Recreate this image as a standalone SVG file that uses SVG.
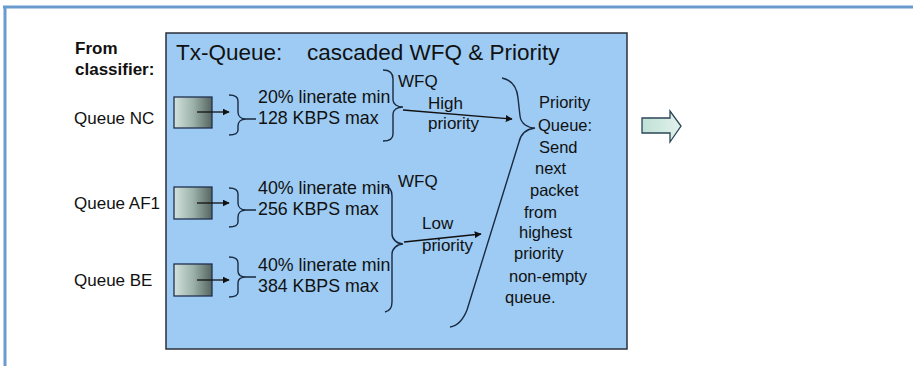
<svg xmlns="http://www.w3.org/2000/svg" width="914" height="366" viewBox="0 0 914 366">
<defs>
<linearGradient id="qg" x1="0" y1="0" x2="1" y2="0">
<stop offset="0" stop-color="#d3e2dc"/>
<stop offset="0.5" stop-color="#9cb2aa"/>
<stop offset="1" stop-color="#55655f"/>
</linearGradient>
<linearGradient id="ag" x1="0" y1="0" x2="1" y2="0">
<stop offset="0" stop-color="#bfe0d6"/>
<stop offset="1" stop-color="#e2f2ec"/>
</linearGradient>
<marker id="ah" viewBox="0 0 10 10" refX="9" refY="5" markerWidth="7" markerHeight="7" markerUnits="userSpaceOnUse" orient="auto">
<path d="M0,0 L10,5 L0,10 z" fill="#111"/>
</marker>
</defs>
<style>
text{font-family:"Liberation Sans",Arial,sans-serif;fill:#111;}
.lbl{font-size:17px;}
.bold{font-size:17px;font-weight:bold;}
.title{font-size:22.5px;}
.mid{font-size:17.8px;}
.pq{font-size:16.5px;}
.q{fill:url(#qg);stroke:#203050;stroke-width:1.3;}
.br{fill:none;stroke:#1a2a40;stroke-width:1.4;}
.ln{fill:none;stroke:#111;stroke-width:1.3;marker-end:url(#ah);}
</style>
<rect width="914" height="366" fill="#ffffff"/>
<g id="frame">
<line x1="3" y1="7" x2="913" y2="7" stroke="#6a9bcf" stroke-width="3"/>
<line x1="5" y1="6" x2="5" y2="366" stroke="#6a9bcf" stroke-width="3"/>
</g>
<g id="txqueue">
<rect x="166" y="33" width="461" height="316" fill="#9dcbf3" stroke="#2b3038" stroke-width="1.5"/>
<text class="title" x="176" y="60">Tx-Queue:</text>
<text class="title" x="307" y="60">cascaded WFQ &amp; Priority</text>
</g>
<g id="from">
<text class="bold" x="75" y="54">From</text>
<text class="bold" x="75" y="75">classifier:</text>
</g>
<g id="queue-nc">
<text class="lbl" x="74" y="124">Queue NC</text>
<rect class="q" x="174" y="97" width="38" height="31"/>
</g>
<g id="queue-af1">
<text class="lbl" x="74" y="209">Queue AF1</text>
<rect class="q" x="174" y="187" width="38" height="32"/>
</g>
<g id="queue-be">
<text class="lbl" x="74" y="286">Queue BE</text>
<rect class="q" x="174" y="264" width="38" height="32"/>
</g>
<g id="rate-nc">
<path class="br" d="M229,95 C235,95 238,97 238,101 L238,112 C238,116 241,119 246,119 L256,119 M246,119 C241,119 238,122 238,126 L238,130 C238,133 235,135 229,135"/>
<text class="mid" x="258" y="103">20% linerate min</text>
<text class="mid" x="258" y="124">128 KBPS max</text>
</g>
<g id="rate-af1">
<path class="br" d="M229,188 C235,188 238,190 238,194 L238,203 C238,207 241,210 246,210 L256,210 M246,210 C241,210 238,213 238,217 L238,222 C238,225 235,227 229,227"/>
<text class="mid" x="258" y="194">40% linerate min</text>
<text class="mid" x="258" y="215">256 KBPS max</text>
</g>
<g id="rate-be">
<path class="br" d="M229,257 C235,257 238,259 238,263 L238,271 C238,275 241,277 246,277 L256,277 M246,277 C241,277 238,279 238,283 L238,292 C238,295 235,297 229,297"/>
<text class="mid" x="258" y="271">40% linerate min</text>
<text class="mid" x="258" y="292">384 KBPS max</text>
</g>
<g id="wfq-high">
<path class="br" d="M383,70 C390,70 393,73 393,79 L393,100 C393,104 397,107 403,107 C397,107 393,110 393,114 L393,134 C393,139 389,141 383,141"/>
<text class="lbl" x="398" y="87">WFQ</text>
<text class="lbl" x="428" y="109">High</text>
<text class="lbl" x="428" y="129">priority</text>
</g>
<g id="wfq-low">
<path class="br" d="M385,187 C390,187 392,190 392,196 L392,234 C392,239 397,244 403,244 C397,244 392,249 392,254 L392,302 C392,308 390,311 385,312"/>
<text class="lbl" x="398" y="187">WFQ</text>
<text class="lbl" x="422" y="229">Low</text>
<text class="lbl" x="422" y="251">priority</text>
</g>
<g id="priority-queue">
<path class="br" d="M502,78 C512,80 517,88 518,98 L520,116 C521,124 528,128 535,128 C527,129 521,133 519,142 L467,310 C463,320 457,326 450,327"/>
<text class="pq" x="539" y="108">Priority</text>
<text class="pq" x="538" y="131">Queue:</text>
<text class="pq" x="539" y="153">Send</text>
<text class="pq" x="535" y="174">next</text>
<text class="pq" x="530" y="196">packet</text>
<text class="pq" x="524" y="218">from</text>
<text class="pq" x="519" y="238">highest</text>
<text class="pq" x="514" y="259">priority</text>
<text class="pq" x="509" y="282">non-empty</text>
<text class="pq" x="505" y="303">queue.</text>
</g>
<g id="output-arrow">
<path d="M642,118 L670,118 L670,111 L681,126 L670,142 L670,133 L642,133 Z" fill="url(#ag)" stroke="#2a4656" stroke-width="1.3" stroke-linejoin="miter"/>
</g>
<g id="connectors">
<line class="ln" x1="197" y1="112" x2="229" y2="112"/>
<line class="ln" x1="197" y1="203" x2="229" y2="203"/>
<line class="ln" x1="197" y1="280" x2="229" y2="280"/>
<line class="ln" x1="403" y1="110" x2="512" y2="119"/>
<line class="ln" x1="404" y1="242" x2="481" y2="234"/>
</g>
</svg>
